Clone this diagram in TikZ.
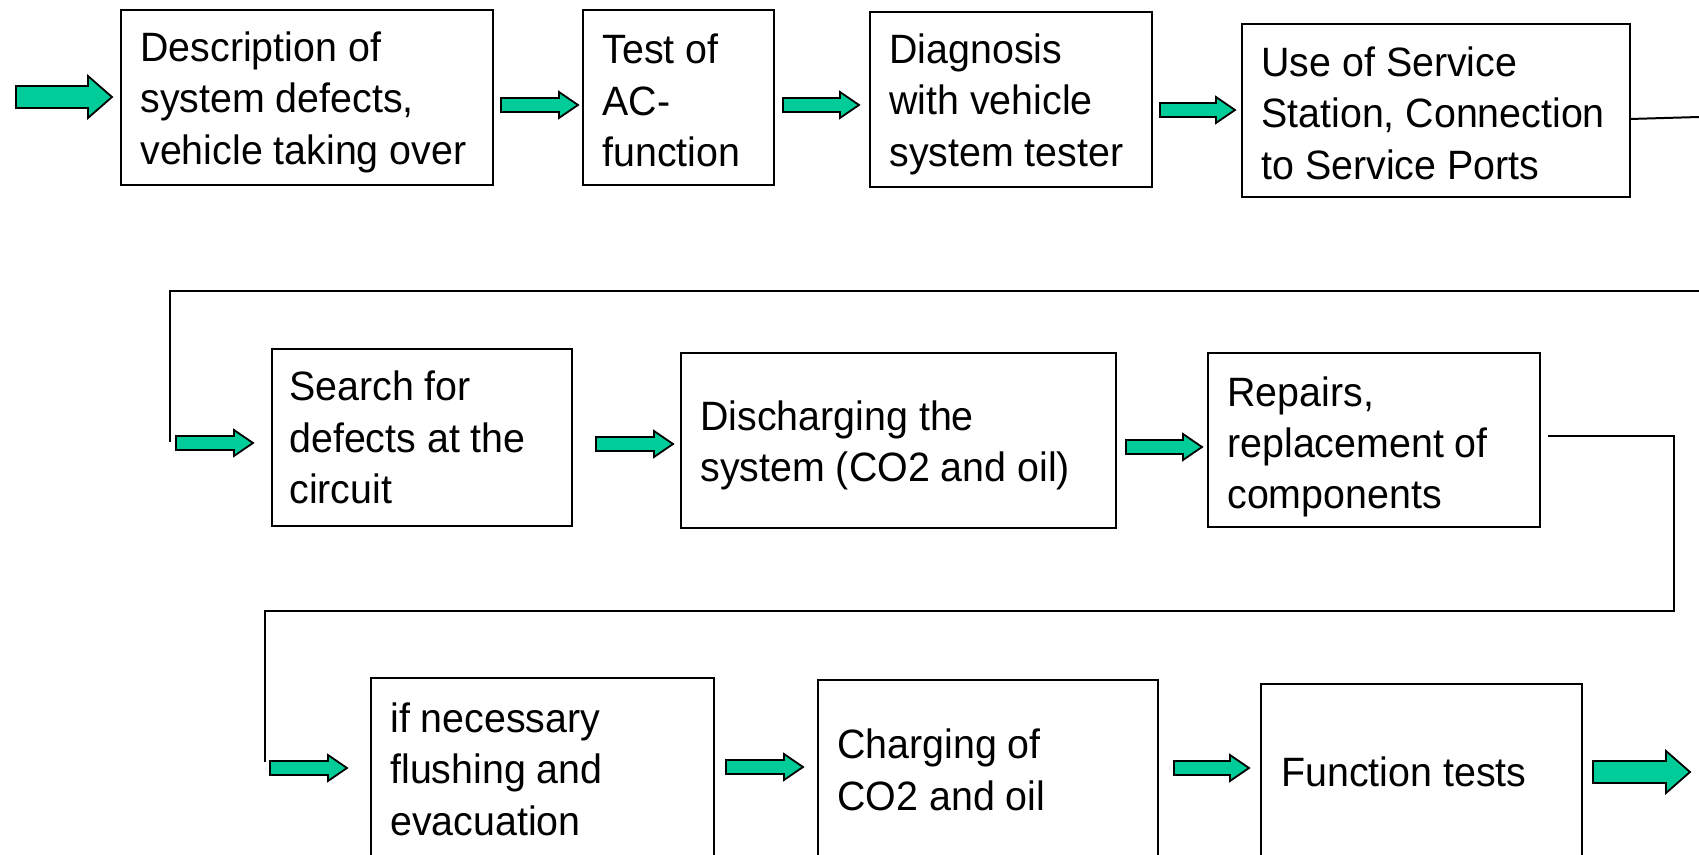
\documentclass[tikz,border=0pt]{standalone}
\usepackage{fontspec}
\setmainfont{Liberation Sans}[FakeStretch=0.96]
\usetikzlibrary{fit}
\definecolor{arrowgreen}{RGB}{0,204,153}
\tikzset{
  stepbox/.style={draw=black, line width=1pt, inner sep=0pt, rectangle},
  txt/.style={anchor=west, align=left, inner sep=0pt, font=\fontsize{20.5pt}{25.7pt}\selectfont},
  arrowshape/.style={draw=black, line width=0.9pt, fill=arrowgreen, line join=miter},
  link/.style={draw=black, line width=1pt}
}
\newcommand{\blockarrow}[6]{%
  \draw[arrowshape] (#1,#3-#4) -- (#2-#6,#3-#4) -- (#2-#6,#3-#5) -- (#2,#3)
    -- (#2-#6,#3+#5) -- (#2-#6,#3+#4) -- (#1,#3+#4) -- cycle;}
\newcommand{\bigarrow}[3]{\blockarrow{#1}{#2}{#3}{11}{21}{24}}
\newcommand{\smallarrow}[3]{\blockarrow{#1}{#2}{#3}{7}{13}{19}}
\begin{document}
\begin{tikzpicture}[x=0.5pt,y=-0.5pt]
\clip (0,0) rectangle (1699,855);
\fill[white] (0,0) rectangle (1699,855);

% boxes
\node[stepbox, fit={(121,10) (493,185)}] (b1) {};
\node[stepbox, fit={(583,10) (774,185)}] (b2) {};
\node[stepbox, fit={(870,12) (1152,187)}] (b3) {};
\node[stepbox, fit={(1242,24) (1630,197)}] (b4) {};
\node[stepbox, fit={(272,349) (572,526)}] (b5) {};
\node[stepbox, fit={(681,353) (1116,528)}] (b6) {};
\node[stepbox, fit={(1208,353) (1540,527)}] (b7) {};
\node[stepbox, fit={(371,678) (714,860)}] (b8) {};
\node[stepbox, fit={(818,680) (1158,860)}] (b9) {};
\node[stepbox, fit={(1261,684) (1582,860)}] (b10) {};

% texts
\node[txt] (t1) at ([xshift=10pt,yshift=-2.3pt]b1.west) {Description of\\system defects,\\vehicle taking over};
\node[txt] (t2) at ([xshift=10pt,yshift=-1.5pt]b2.west) {Test of\\AC-\\function};
\node[txt] (t3) at ([xshift=10pt,yshift=-2.3pt]b3.west) {Diagnosis\\with vehicle\\system tester};
\node[txt] (t4) at ([xshift=10pt,yshift=-1.3pt]b4.west) {Use of Service\\Station, Connection\\to Service Ports};
\node[txt] (t5) at ([xshift=9pt]b5.west) {Search for\\defects at the\\circuit};
\node[txt] (t6) at ([xshift=10pt,yshift=-2.5pt]b6.west) {Discharging the\\system (CO2 and oil)};
\node[txt] (t7) at ([xshift=10pt,yshift=-3.5pt]b7.west) {Repairs,\\replacement of\\components};
\node[txt] (t8) at ([xshift=10pt]b8.west) {if necessary\\flushing and\\evacuation};
\node[txt] (t9) at ([xshift=10pt]b9.west) {Charging of\\CO2 and oil};
\node[txt] (t10) at ([xshift=10.5pt]b10.west) {Function tests};

% block arrows
\bigarrow{16}{112}{97}
\smallarrow{501}{578}{105}
\smallarrow{783}{859}{105}
\smallarrow{1160}{1235}{110}
\smallarrow{176}{253}{443}
\smallarrow{596}{673}{444}
\smallarrow{1126}{1202}{447}
\smallarrow{270}{347}{768}
\smallarrow{726}{803}{767}
\smallarrow{1174}{1249}{768}
\bigarrow{1593}{1690}{772}

% connector lines
\coordinate (a1) at (1630,119);
\coordinate (a2) at (1699,117);
\draw[link] (a1) -- (a2);

\coordinate (bs) at (1699,291);
\coordinate (bc) at (170,291);
\coordinate (be) at (170,442);
\draw[link] (bs) -- (bc) -- (be);

\coordinate (cs) at (1548,436);
\coordinate (c1) at (1674,436);
\coordinate (c2) at (1674,611);
\coordinate (c3) at (265,611);
\coordinate (ce) at (265,762);
\draw[link] (cs) -- (c1) -- (c2) -- (c3) -- (ce);
\end{tikzpicture}
\end{document}
